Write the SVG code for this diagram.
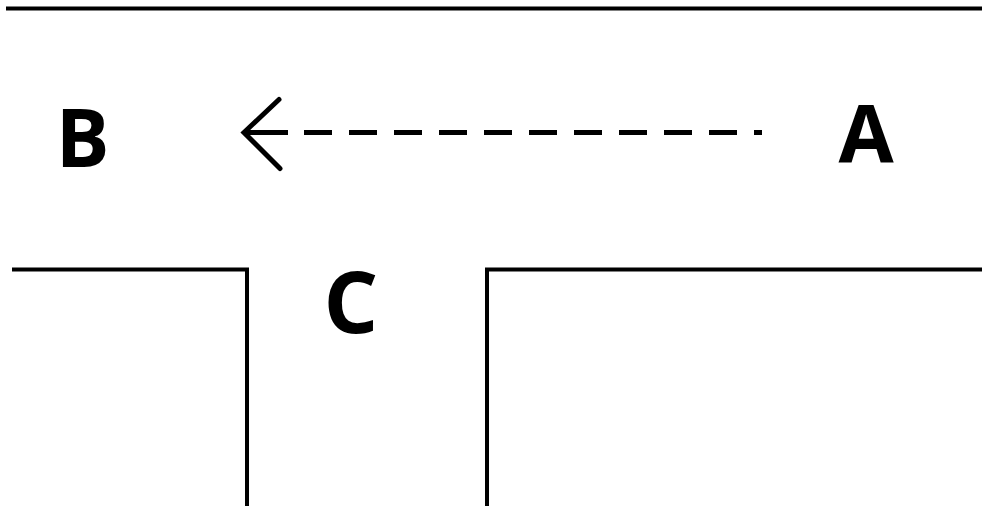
<svg xmlns="http://www.w3.org/2000/svg" width="982" height="506" viewBox="0 0 982 506">
<style>
.wall{fill:none;stroke:#000;stroke-width:4;stroke-linejoin:miter}
.lbl{font-family:"Open Sans","Liberation Sans",sans-serif;font-weight:bold;fill:#000;text-anchor:middle}
.conn{fill:none;stroke:#000;stroke-width:5}
</style>
<defs>
<marker id="chev" markerUnits="userSpaceOnUse" orient="auto" markerWidth="60" markerHeight="90" refX="0" refY="0" viewBox="-45 -45 60 90" overflow="visible">
<path d="M-36,-36 L0,0 L-35,33" fill="none" stroke="#000" stroke-width="5" stroke-linecap="round" stroke-linejoin="miter"/>
</marker>
</defs>
<rect width="982" height="506" fill="#fff"/>
<g id="walls">
<path class="wall" d="M6,8.5 H982"/>
<path class="wall" d="M12,269.5 H247 V506"/>
<path class="wall" d="M982,269.5 H487 V506"/>
</g>
<g id="connectors">
<path class="conn" d="M304,132.5 H762" stroke-dasharray="28 17"/>
<path class="conn" d="M288,132.5 H244" marker-end="url(#chev)"/>
</g>
<g id="node-B"><text class="lbl" x="82.5" y="167" font-size="80">B</text></g>
<g id="node-A"><text class="lbl" x="866" y="163" font-size="80">A</text></g>
<g id="node-C"><text class="lbl" x="351" y="333" font-size="86">C</text></g>
</svg>
